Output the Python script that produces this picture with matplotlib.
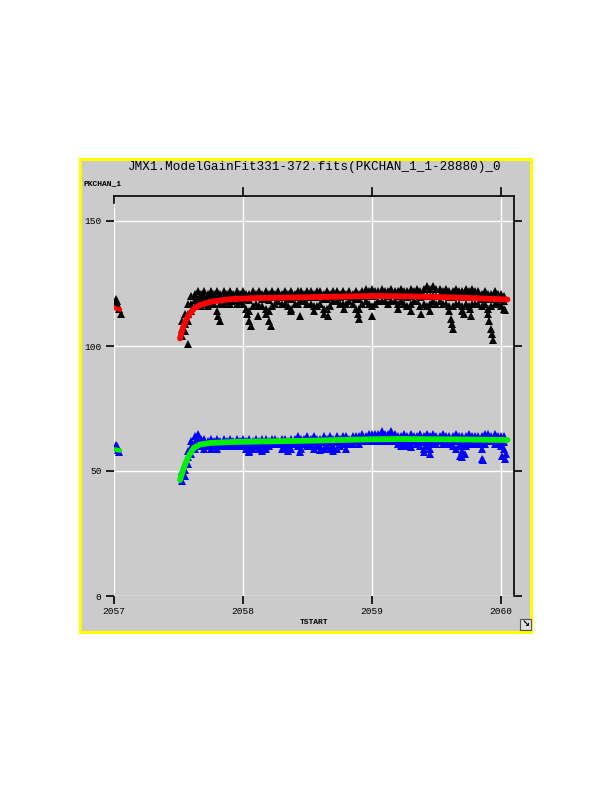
import matplotlib
matplotlib.use("Agg")
import matplotlib.pyplot as plt
from matplotlib.patches import Rectangle
from matplotlib.lines import Line2D
import matplotlib.transforms as mtrans

# ---------------- data ----------------
title = "JMX1.ModelGainFit331-372.fits(PKCHAN_1_1-28880)_0"
ylabel = "PKCHAN_1"
xlabel = "TSTART"
xticks = [2057, 2058, 2059, 2060]
yticks = [0, 50, 100, 150]

# early cluster
early_x = [2057.015, 2057.02, 2057.025, 2057.03, 2057.04, 2057.055]
early_black = [119, 117, 118, 116, 115, 113]
early_blue = [60.5, 60, 59.5, 58.5, 57.5, 57]
early_fit_x = [2057.008, 2057.045]
early_red = [115.2, 114.6]
early_green = [58.6, 58.2]

tstart = [2057.525, 2057.55, 2057.575, 2057.6, 2057.625, 2057.65, 2057.675, 2057.7,
          2057.725, 2057.75, 2057.775, 2057.8, 2057.825, 2057.85, 2057.875, 2057.9,
          2057.925, 2057.95, 2057.975, 2058.0, 2058.025, 2058.05, 2058.075, 2058.1,
          2058.125, 2058.15, 2058.175, 2058.2, 2058.225, 2058.25, 2058.275, 2058.3,
          2058.325, 2058.35, 2058.375, 2058.4, 2058.425, 2058.45, 2058.475, 2058.5,
          2058.525, 2058.55, 2058.575, 2058.6, 2058.625, 2058.65, 2058.675, 2058.7,
          2058.725, 2058.75, 2058.775, 2058.8, 2058.825, 2058.85, 2058.875, 2058.9,
          2058.925, 2058.95, 2058.975, 2059.0, 2059.025, 2059.05, 2059.075, 2059.1,
          2059.125, 2059.15, 2059.175, 2059.2, 2059.225, 2059.25, 2059.275, 2059.3,
          2059.325, 2059.35, 2059.375, 2059.4, 2059.425, 2059.45, 2059.475, 2059.5,
          2059.525, 2059.55, 2059.575, 2059.6, 2059.625, 2059.65, 2059.675, 2059.7,
          2059.725, 2059.75, 2059.775, 2059.8, 2059.825, 2059.85, 2059.875, 2059.9,
          2059.925, 2059.95, 2059.975, 2060.0, 2060.025]

black_hi = [110, 113, 117, 120, 121, 122, 121, 122, 121, 122, 121, 122, 121, 122, 121, 122,
            121, 122, 121, 122, 121, 121, 122, 121, 122, 121, 122, 121, 122, 121, 122, 121,
            122, 121, 122, 121, 122, 122, 121, 122, 122, 121, 122, 122, 121, 122, 121, 122,
            122, 121, 122, 121, 122, 121, 122, 121, 122, 123, 122, 123, 122, 122, 123, 122,
            122, 123, 122, 122, 123, 122, 122, 123, 122, 123, 122, 123, 124, 123, 124, 123,
            123, 122, 123, 122, 122, 123, 122, 122, 123, 122, 123, 122, 122, 121, 122, 121,
            121, 122, 121, 121, 120]
black_mid = [107, 109, 113, 117, 118.5, 119, 119, 119.5, 119, 119.5, 119, 119, 119.5, 119.5, 120, 119.5,
             120, 119.5, 120, 119.5, 119, 118.5, 119.5, 119.5, 119.5, 119, 119, 118.5, 119.5, 119.5, 120, 119.5,
             120, 119, 119, 120, 119.5, 120, 120, 119.5, 120, 119.5, 119.5, 120, 119, 119, 119.5, 120,
             120, 119.5, 120, 120, 120, 119.5, 119, 119, 120, 120.5, 120, 120, 120, 120.5, 120.5, 120.5,
             120, 120.5, 120.5, 120, 120.5, 120, 119.5, 120, 120.5, 120.5, 119.5, 120, 120, 120, 120.5, 120,
             120.5, 120, 120, 119.5, 119.5, 120, 120, 119.5, 120, 119.5, 120, 119.5, 119.5, 119, 119.5, 119,
             119, 119.5, 119, 119, 118]
black_lo = [104, 106, 110, 114, 116, 117, 116, 117, 116, 117, 117, 114, 117, 117, 118, 117,
            118, 117, 118, 117, 115, 114, 116, 117, 116, 116, 115, 114, 116, 117, 118, 117,
            117, 116, 115, 117, 117, 118, 118, 117, 117, 116, 116, 117, 115, 115, 116, 118,
            118, 117, 117, 117, 118, 117, 115, 115, 117, 118, 117, 116, 117, 118, 118, 118,
            117, 118, 118, 117, 118, 117, 116, 117, 118, 118, 116, 117, 116, 117, 118, 117,
            118, 117, 117, 116, 116, 117, 117, 116, 117, 116, 117, 117, 117, 116, 117, 115,
            116, 117, 117, 116, 115]
blue_hi = [50, 53, 58, 62, 64, 65, 63, 63, 62, 63, 62, 63, 62, 63, 62, 63,
           62, 63, 62, 63, 62, 63, 62, 63, 62, 63, 63, 62, 63, 63, 62, 63,
           63, 62, 63, 63, 64, 63, 63, 64, 63, 64, 63, 63, 64, 63, 64, 63,
           64, 63, 64, 64, 63, 64, 64, 64, 65, 64, 65, 65, 65, 65, 66, 65,
           65, 66, 65, 64, 64, 65, 64, 65, 64, 64, 65, 64, 65, 64, 65, 64,
           64, 65, 64, 64, 64, 65, 64, 64, 64, 65, 64, 64, 64, 64, 65, 65,
           64, 65, 64, 64, 64]
blue_mid = [48, 50.5, 55.5, 59.5, 61.5, 62.5, 61.5, 61, 61, 61, 61, 61, 61, 61.5, 61, 61.5,
            61, 61.5, 61.5, 61.5, 60.5, 60, 60.5, 61.5, 60.5, 61.5, 61, 61, 62, 62, 61.5, 61,
            61, 61, 61, 62, 62, 61, 62, 62, 61.5, 61.5, 61.5, 61.5, 61.5, 61.5, 61.5, 61.5,
            61.5, 61.5, 62.5, 62.5, 62, 62.5, 63, 62.5, 63.5, 63, 63.5, 63.5, 63.5, 63.5, 64, 63.5,
            63.5, 64, 63.5, 62.5, 62, 63, 62, 63, 63, 62.5, 62.5, 61.5, 62.5, 61.5, 63, 62.5,
            63, 63, 62.5, 62.5, 62, 62, 62, 61, 62, 63, 62.5, 62.5, 62.5, 61.5, 63, 63.5,
            63, 63, 62.5, 62, 61.5]
blue_lo = [46, 48, 53, 57, 59, 60, 60, 59, 60, 59, 60, 59, 60, 60, 60, 60,
           60, 60, 61, 60, 59, 58, 59, 60, 59, 60, 59, 60, 61, 61, 61, 59,
           59, 60, 59, 61, 60, 59, 61, 60, 60, 59, 60, 60, 59, 60, 59, 60,
           59, 60, 61, 61, 61, 61, 62, 61, 62, 62, 62, 62, 62, 62, 62, 62,
           62, 62, 62, 61, 60, 61, 60, 61, 62, 61, 60, 59, 60, 59, 61, 61,
           62, 61, 61, 61, 60, 59, 60, 58, 60, 61, 61, 61, 61, 59, 61, 62,
           62, 61, 61, 60, 59]

black_dip_x = [2057.575, 2057.81, 2057.82, 2058.03, 2058.05, 2058.06, 2058.12, 2058.18,
               2058.2, 2058.22, 2058.37, 2058.44, 2058.55, 2058.63, 2058.66, 2058.78,
               2058.89, 2058.9, 2059.0, 2059.2, 2059.3, 2059.38, 2059.45, 2059.6,
               2059.61, 2059.62, 2059.63, 2059.7, 2059.71, 2059.76, 2059.77, 2059.9,
               2059.91, 2059.92, 2059.93, 2059.94, 2060.03]
black_dip_y = [101, 112, 110, 113, 110, 108, 112, 113,
               110, 108, 114, 112, 114, 113, 112, 115,
               113, 111, 112, 115, 114, 113, 114, 114,
               111, 109, 107, 114, 113, 115, 112, 113,
               110, 107, 105, 102.5, 114.5]
blue_dip_x = [2057.53, 2058.05, 2058.15, 2058.35, 2058.44, 2058.6, 2058.7, 2058.8,
              2059.3, 2059.4, 2059.45, 2059.68, 2059.7, 2059.72, 2059.85, 2059.86,
              2060.01, 2060.03, 2060.04]
blue_dip_y = [48, 57.5, 58, 58, 57.5, 58.5, 58, 59,
              59.5, 57.5, 57, 56, 55.5, 57, 55, 54.5,
              56, 55, 57]

fit_x = [2057.512, 2057.53, 2057.55, 2057.57, 2057.59, 2057.62, 2057.667, 2057.744,
         2057.83, 2057.92, 2058.13, 2058.5, 2059.0, 2059.22, 2059.5, 2059.75, 2060.05]
red_fit = [103, 106.5, 109.5, 111.5, 113, 115, 116.4, 117.6,
           118.3, 118.8, 119.2, 119.5, 120.0, 119.9, 119.6, 119.2, 118.6]
green_fit = [46.4, 49.5, 52.5, 55.0, 57.0, 59.3, 60.6, 61.2,
             61.4, 61.6, 61.8, 62.1, 62.7, 62.8, 62.7, 62.6, 62.4]

# ---------------- figure ----------------
W, H = 612, 792
fig = plt.figure(figsize=(W / 100, H / 100), dpi=100)
fig.patch.set_facecolor("white")

def fx(px):
    return px / W

def fy(py):
    return 1 - py / H

GRAY = "#cbcbcb"
mono = ["Liberation Mono", "DejaVu Sans Mono"]

# yellow frame panel (behind the axes)
panel = Rectangle((fx(80), fy(632)), fx(531) - fx(80), fy(159) - fy(632),
                  transform=fig.transFigure, facecolor=GRAY,
                  edgecolor="#ffff00", linewidth=2.2, zorder=-10)
fig.patches.append(panel)

ax = fig.add_axes([fx(114), fy(596), fx(514) - fx(114), fy(196) - fy(596)])
ax.set_zorder(5)
ax.set_facecolor(GRAY)
ax.set_xlim(2057, 2057 + 400 / 129)
ax.set_ylim(0, 160)

for s in ["left", "bottom"]:
    ax.spines[s].set_visible(False)
for s in ["top", "right"]:
    ax.spines[s].set_color("black")
    ax.spines[s].set_linewidth(1.2)

ax.set_xticks(xticks)
ax.set_yticks(yticks)
ax.set_xticklabels([str(v) for v in xticks], family=mono, fontsize=6.8)
ax.set_yticklabels([str(v) for v in yticks], family=mono, fontsize=6.8)
ax.tick_params(axis="x", direction="out", length=6, width=1.2, top=False, bottom=True, pad=2)
ax.tick_params(axis="y", direction="out", length=6, width=1.2, left=True, right=True, pad=3)
ax.grid(True, color="white", linewidth=1.0)
ax.set_axisbelow(True)

# top ticks (drawn outward), and short inward tick at the left end
trans = mtrans.blended_transform_factory(ax.transData, ax.transAxes)
for xt in xticks[1:]:
    ax.add_line(Line2D([xt, xt], [1, 1.02], transform=trans, color="black", lw=1.2, clip_on=False))
ax.add_line(Line2D([xticks[0], xticks[0]], [1, 0.982], transform=trans, color="black", lw=1.2, clip_on=False))

ms = 5.2
kw = dict(linestyle="none", marker="^", markersize=ms, markeredgewidth=0, zorder=3)
# black series
ax.plot(early_x, early_black, color="black", **kw)
for arr in (black_hi, black_mid, black_lo):
    ax.plot(tstart, arr, color="black", **kw)
ax.plot(black_dip_x, black_dip_y, color="black", **kw)
# blue series
ax.plot(early_x[:5], early_blue[:5], color="#0000ff", **kw)
for arr in (blue_hi, blue_mid, blue_lo):
    ax.plot(tstart, arr, color="#0000ff", **kw)
ax.plot(blue_dip_x, blue_dip_y, color="#0000ff", **kw)

# fit curves
ax.plot(early_fit_x, early_red, color="#ff0000", lw=3.4, zorder=4, solid_capstyle="round")
ax.plot(early_fit_x, early_green, color="#00ee00", lw=3.4, zorder=4, solid_capstyle="round")
ax.plot(fit_x, red_fit, color="#ff0000", lw=4.2, zorder=4, solid_capstyle="round")
ax.plot(fit_x, green_fit, color="#00ee00", lw=4.2, zorder=4, solid_capstyle="round")

# texts
fig.text(fx(315), fy(167), title, family=mono, fontsize=9.1, ha="center", va="center", zorder=6)
fig.text(fx(83), fy(184), ylabel, family=mono, fontsize=5.8, fontweight="bold",
         ha="left", va="center", zorder=6)
fig.text(fx(314), fy(623), xlabel, family=mono, fontsize=5.8, fontweight="bold",
         ha="center", va="center", zorder=6)

# small resize icon
fig.patches.append(Rectangle((fx(520), fy(630)), fx(11), fy(619) - fy(630),
                             transform=fig.transFigure, facecolor="#e0e0e0",
                             edgecolor="#555555", linewidth=0.8, zorder=6))
fig.text(fx(525.5), fy(624.5), "\u2198", family=["DejaVu Sans"], fontsize=7,
         fontweight="bold", ha="center", va="center", color="black", zorder=7)

fig.savefig("out.png", dpi=100, facecolor="white")
